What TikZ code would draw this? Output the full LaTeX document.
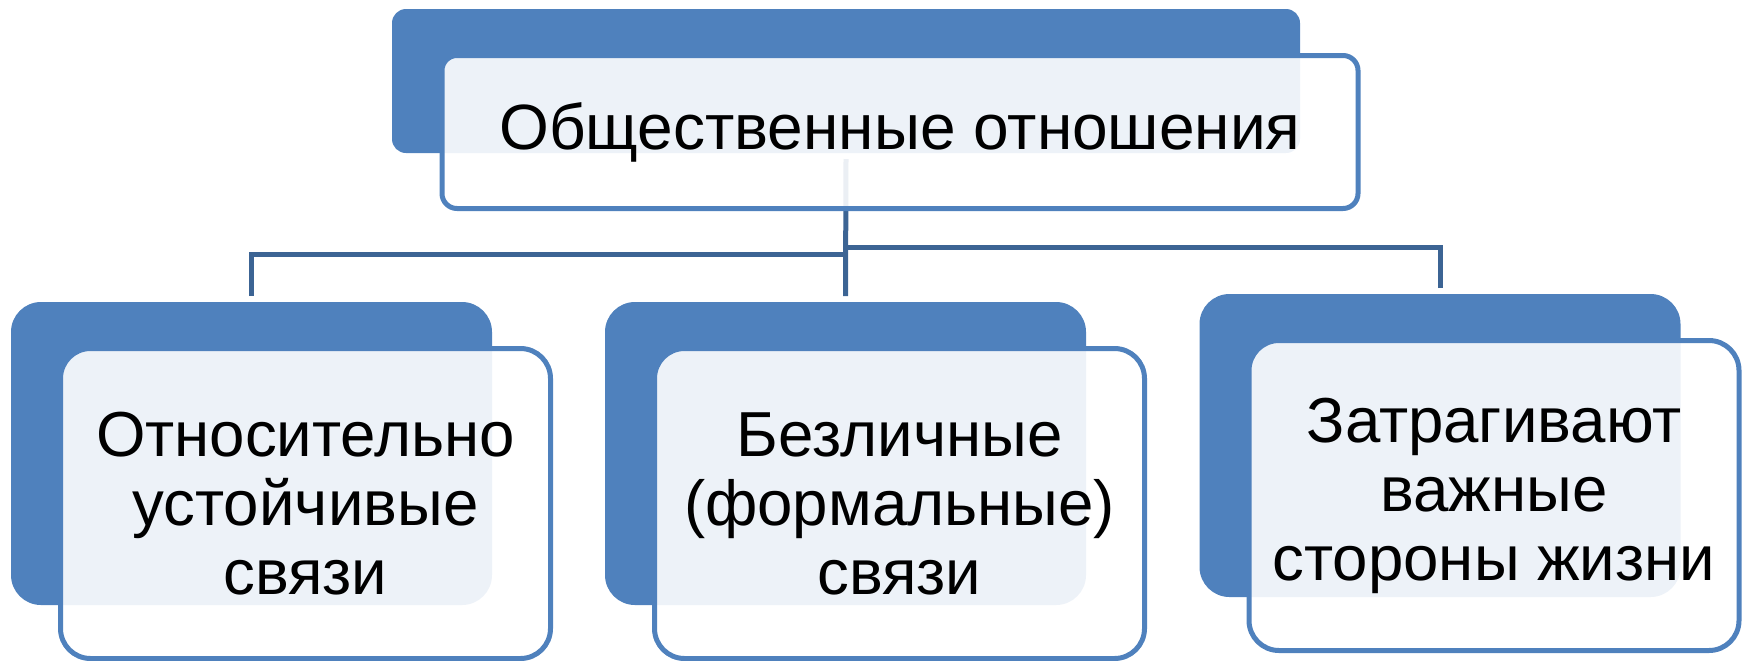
\documentclass[tikz,border=0pt]{standalone}
\usepackage{fontspec}
\setmainfont{Liberation Sans}
\usetikzlibrary{calc}

\definecolor{boxblue}{HTML}{4F81BD}
\definecolor{linkblue}{HTML}{3C6494}

\begin{document}
\begin{tikzpicture}[x=0.5pt, y=-0.5pt,
  back/.style={fill=boxblue, inner sep=0pt, outer sep=0pt},
  front/.style={draw=boxblue, line width=2.5pt, fill=white, fill opacity=0.9,
    text opacity=1, text=black, inner sep=0pt, outer sep=0pt, align=center},
  headback/.style={back, minimum width=454pt, minimum height=72pt, rounded corners=7pt},
  headfront/.style={front, minimum width=458pt, minimum height=76.5pt, rounded corners=7.5pt,
    font=\fontsize{32}{36}\selectfont},
  itemback/.style={back, minimum width=240.5pt, minimum height=151.5pt, rounded corners=15pt},
  itemfront/.style={front, minimum width=245pt, minimum height=155pt, rounded corners=15pt,
    font=\fontsize{31.8}{34.5}\selectfont},
  link/.style={draw=linkblue, line width=2.5pt}]
  \useasboundingbox (0,0) rectangle (1745,660);

  % back plates
  \node[headback] (headb) at (846,81) {};
  \node[itemback] (leftb) at (251.5,453.5) {};
  \node[itemback] (midb) at (845.5,453.5) {};
  \node[itemback] (rightb) at (1440,445.5) {};

  % connectors
  \draw[link] ($(headb.south)+(0,6)$) -- ($(midb.north)-(0,6)$);
  \draw[link] (leftb.north) ++(0,-6) |- ($(midb.north)-(0,48)$);
  \draw[link] (rightb.north) ++(0,-6) |- ($(rightb.north -| midb.north)-(0,47)$);

  % front plates
  \node[headfront] (headf) at ([shift={(54,51)}]headb.center) {Общественные отношения};
  \node[itemfront] (leftf) at ([shift={(54,50)}]leftb.center) {Относительно\\устойчивые\\связи};
  \node[itemfront] (midf) at ([shift={(54,50)}]midb.center) {Безличные\\(формальные)\\связи};
  \node[itemfront] (rightf) at ([shift={(54,50)}]rightb.center) {Затрагивают\\важные\\стороны жизни};
\end{tikzpicture}
\end{document}
